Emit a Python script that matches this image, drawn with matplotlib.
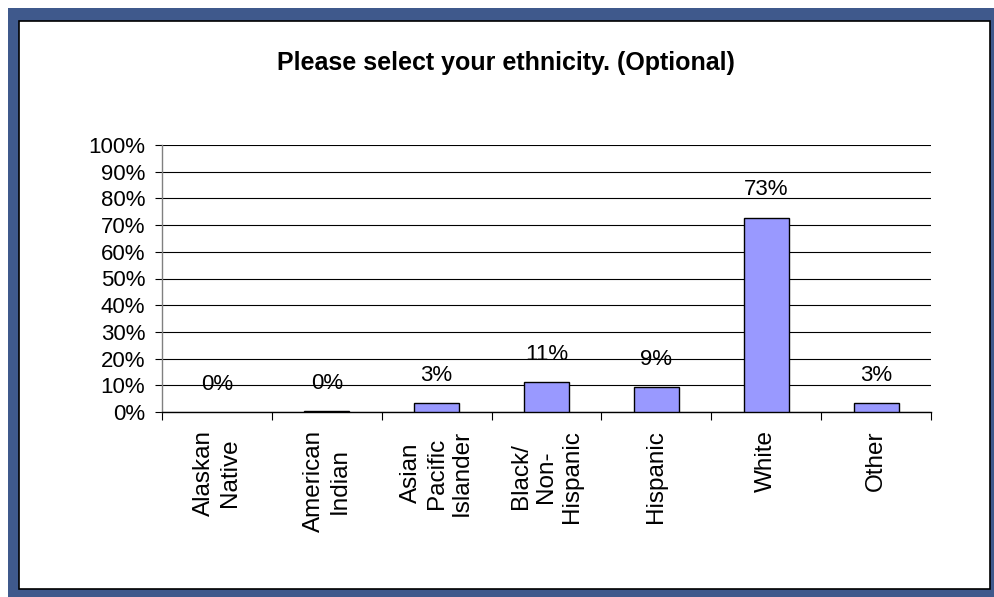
import matplotlib
matplotlib.use("Agg")
import matplotlib.pyplot as plt
from matplotlib.patches import Rectangle
from matplotlib.ticker import FixedLocator, PercentFormatter

categories = ["Alaskan\nNative", "American\nIndian", "Asian\nPacific\nIslander",
              "Black/\nNon-\nHispanic", "Hispanic", "White", "Other"]
percent = [0.0, 0.4, 3.3, 11.3, 9.2, 72.8, 3.3]
y_ticks = list(range(0, 101, 10))
title = "Please select your ethnicity. (Optional)"

W, H, DPI = 995, 597, 100
plt.rcParams["font.family"] = ["Liberation Sans", "DejaVu Sans"]

fig = plt.figure(figsize=(W / DPI, H / DPI), dpi=DPI)
fig.patch.set_facecolor("white")

def px_rect(x0, y0, x1, y1, **kw):
    """Rectangle given in pixel coords measured from the top-left corner."""
    return Rectangle((x0 / W, 1 - y1 / H), (x1 - x0) / W, (y1 - y0) / H,
                     transform=fig.transFigure, **kw)

# Blue frame and white panel
fig.patches.append(px_rect(8, 8, W + 20, H + 20, facecolor="#3F598C",
                           edgecolor="none", zorder=0))
fig.patches.append(px_rect(19, 21, 990, 589, facecolor="white",
                           edgecolor="black", linewidth=1.2, zorder=1))

ax = fig.add_axes([162 / W, 1 - 412 / H, (931 - 162) / W, (412 - 145) / H])
ax.set_zorder(2)
ax.patch.set_alpha(0)

x = list(range(len(categories)))
edge_widths = [1.0 if v > 0 else 0.0 for v in percent]
bars = ax.bar(x, percent, width=0.41, color="#9999FF", edgecolor="black",
              linewidth=edge_widths, zorder=3)

for xi, v in zip(x, percent):
    ax.annotate(f"{v:.0f}%", (xi, v), xytext=(0, 20), textcoords="offset points",
                ha="center", va="center", fontsize=16, zorder=4)

ax.set_xlim(-0.5, len(categories) - 0.5)
ax.set_ylim(0, 100)
ax.yaxis.set_major_locator(FixedLocator(y_ticks))
ax.yaxis.set_major_formatter(PercentFormatter(decimals=0))
ax.grid(axis="y", color="black", linewidth=0.8, zorder=1)
ax.set_axisbelow(True)

ax.set_xticks(x)
ax.set_xticklabels(categories, rotation=90, fontsize=17.5, multialignment="center")
ax.xaxis.set_minor_locator(FixedLocator([i - 0.5 for i in range(len(categories) + 1)]))
ax.tick_params(axis="x", which="major", length=0, pad=13)
ax.tick_params(axis="x", which="minor", length=6, width=0.8, direction="out")
ax.tick_params(axis="y", length=5, width=0.8, pad=7, labelsize=16)

for s in ("top", "right"):
    ax.spines[s].set_visible(False)
ax.spines["left"].set_color("#808080")
ax.spines["left"].set_linewidth(1.0)
ax.spines["bottom"].set_color("black")
ax.spines["bottom"].set_linewidth(1.0)

fig.text(506 / W, 1 - 63 / H, title, ha="center", va="center",
         fontsize=18, fontweight="bold", zorder=5)

fig.savefig("out.png", dpi=DPI)
